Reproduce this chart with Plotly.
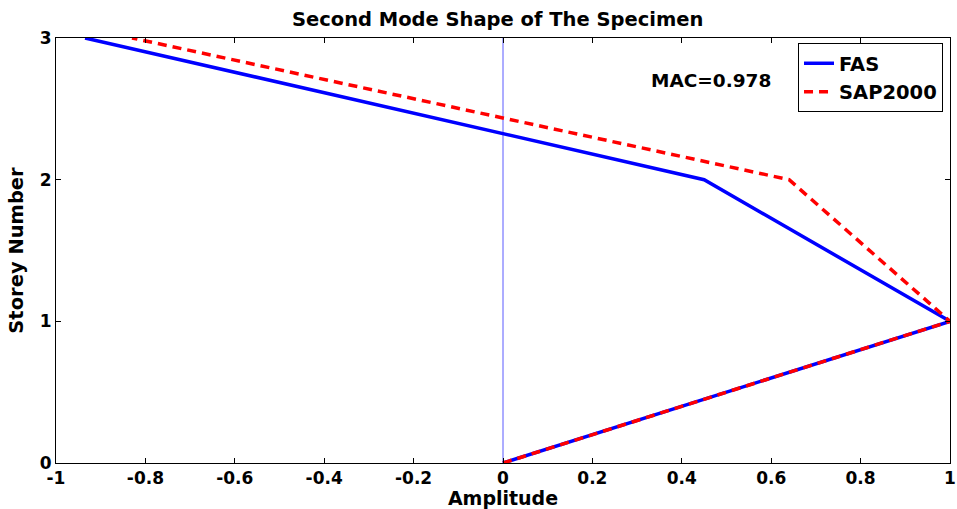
import plotly.graph_objects as go

# Storey levels and modal amplitudes
storey = [0, 1, 2, 3]
fas_amp = [0.0, 1.0, 0.45, -0.935]
sap_amp = [0.0, 1.0, 0.64, -0.83]
mac_value = 0.978

x_ticks = [-1, -0.8, -0.6, -0.4, -0.2, 0, 0.2, 0.4, 0.6, 0.8, 1]
x_tick_text = ["-1", "-0.8", "-0.6", "-0.4", "-0.2", "0", "0.2", "0.4", "0.6", "0.8", "1"]
y_ticks = [0, 1, 2, 3]

font_family = "DejaVu Sans, sans-serif"


def bold(size):
    return dict(family=font_family, size=size, color="black", weight="bold")


fig = go.Figure()

# zero-amplitude reference line
fig.add_trace(go.Scatter(
    x=[0, 0], y=[storey[0], storey[-1]], mode="lines",
    line=dict(color="#5a5aff", width=1), showlegend=False, hoverinfo="skip"))

fig.add_trace(go.Scatter(
    x=fas_amp, y=storey, mode="lines", name="FAS",
    line=dict(color="#0000ff", width=3.5)))

fig.add_trace(go.Scatter(
    x=sap_amp, y=storey, mode="lines", name="SAP2000",
    line=dict(color="#ff0000", width=3.5, dash="9px,6px")))

fig.add_annotation(
    x=0.733, y=0.901, xref="paper", yref="paper", showarrow=False,
    xanchor="center", yanchor="middle",
    text=f"MAC={mac_value}", font=bold(18.5))

axis_common = dict(
    showline=True, linecolor="black", linewidth=1, mirror="ticks",
    ticks="inside", ticklen=5, tickcolor="black", showgrid=False, zeroline=False,
    tickfont=bold(17), ticklabeloverflow="allow", automargin=False)

fig.update_xaxes(
    range=[-1, 1], tickvals=x_ticks, ticktext=x_tick_text,
    title=dict(text="Amplitude", standoff=0, font=bold(19)),
    **axis_common)
fig.update_yaxes(
    range=[0, 3], tickvals=y_ticks,
    title=dict(text="Storey Number", standoff=10, font=bold(19.5)),
    **axis_common)

fig.update_layout(
    width=957, height=509,
    margin=dict(l=56, r=7, t=38, b=46),
    paper_bgcolor="white", plot_bgcolor="white",
    title=dict(text="Second Mode Shape of The Specimen", x=0.52, xanchor="center",
               y=0.963, yanchor="middle", font=bold(19.5)),
    legend=dict(x=0.83, y=0.988, xanchor="left", yanchor="top",
                bordercolor="black", borderwidth=1, bgcolor="white",
                font=bold(19.5), itemwidth=30),
    showlegend=True,
)

fig.write_html("out.html")
